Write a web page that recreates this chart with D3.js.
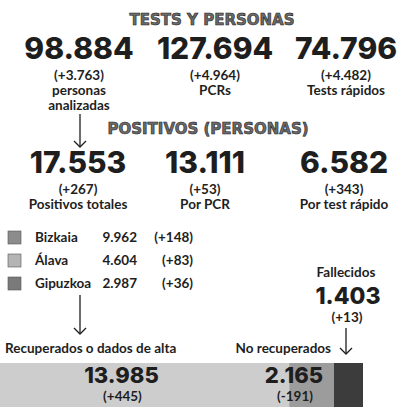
<!DOCTYPE html>
<html>
<head>
<meta charset="utf-8">
<script src="https://cdn.jsdelivr.net/npm/d3@7"></script>
<style>
  html, body { margin: 0; padding: 0; background: #fff; }
  svg { display: block; }
  .big { font-family: Inter, "DejaVu Sans", sans-serif; font-weight: 800; fill: #1e1e1e; font-variant-numeric: proportional-nums; }
  .lbl { font-family: Lato, "Open Sans", sans-serif; font-weight: 700; fill: #1e1e1e; }
  .head { font-family: "DejaVu Sans", sans-serif; font-weight: bold; fill: #6a6a6a; stroke: #1e1e1e; stroke-width: 0.6; }
</style>
</head>
<body>
<svg id="chart" width="400" height="412"></svg>
<script>
(function() {

    // datos
    var testValues = [98884, 127694, 74796];
    var testDeltas = [3763, 4964, 4482];
    var testLabels = [['personas', 'analizadas'], ['PCRs'], ['Tests rápidos']];

    var positiveValues = [17553, 13111, 6582];
    var positiveDeltas = [267, 53, 343];
    var positiveLabels = ['Positivos totales', 'Por PCR', 'Por test rápido'];

    var provinces = ['Bizkaia', 'Álava', 'Gipuzkoa'];
    var provinceValues = [9962, 4604, 2987];
    var provinceDeltas = [148, 83, 36];

    var outcomes = ['Recuperados o dados de alta', 'No recuperados', 'Fallecidos'];
    var outcomeValues = [13985, 2165, 1403];
    var outcomeDeltas = [445, -191, 13];

    var es = d3.formatLocale({decimal: ',', thousands: '.', grouping: [3], currency: ['', ' €'], minus: '-'});
    var num = es.format(',d');
    var delta = function(v) { return '(' + es.format('+,d')(v) + ')'; };

    var svg = d3.select('#chart');

    function arrow(x, y0, y1) {
        svg.append('line')
            .attr('x1', x).attr('x2', x)
            .attr('y1', y0).attr('y2', y1)
            .attr('stroke', '#1e1e1e')
            .attr('stroke-width', 1.3);
        svg.append('path')
            .attr('d', 'M' + (x - 6) + ',' + (y1 - 6) + ' L' + x + ',' + y1 + ' L' + (x + 6) + ',' + (y1 - 6))
            .attr('fill', 'none')
            .attr('stroke', '#1e1e1e')
            .attr('stroke-width', 1.3);
    }

    // bloque de tres cifras
    function block(values, deltas, labels, centers, top) {
        var g = svg.append('g').attr('transform', 'translate(0,' + top + ')');
        var cols = g.selectAll('g.col')
            .data(values.map(function(v, i) { return {v: v, d: deltas[i], l: labels[i], x: centers[i]}; }))
            .enter().append('g')
            .attr('class', 'col')
            .attr('transform', function(d) { return 'translate(' + d.x + ',0)'; });
        cols.append('text')
            .attr('class', 'big')
            .attr('text-anchor', 'middle')
            .attr('font-size', 30)
            .text(function(d) { return num(d.v); });
        cols.append('text')
            .attr('class', 'lbl')
            .attr('text-anchor', 'middle')
            .attr('font-size', 13.5)
            .attr('y', 21)
            .text(function(d) { return delta(d.d); });
        cols.each(function(d) {
            var lines = [].concat(d.l);
            d3.select(this).selectAll('text.sub')
                .data(lines)
                .enter().append('text')
                .attr('class', 'lbl sub')
                .attr('text-anchor', 'middle')
                .attr('font-size', 13.5)
                .attr('y', function(t, i) { return 36 + i * 15; })
                .text(function(t) { return t; });
        });
    }

    svg.append('text')
        .attr('class', 'head')
        .attr('x', 212).attr('y', 25)
        .attr('text-anchor', 'middle')
        .attr('font-size', 15)
        .text('TESTS Y PERSONAS');

    block(testValues, testDeltas, testLabels, [79, 215, 346], 59);

    arrow(80, 114, 147);

    svg.append('text')
        .attr('class', 'head')
        .attr('x', 208).attr('y', 134)
        .attr('text-anchor', 'middle')
        .attr('font-size', 15)
        .text('POSITIVOS (PERSONAS)');

    block(positiveValues, positiveDeltas, positiveLabels, [78, 205, 344], 173);

    // leyenda provincias
    var swatch = d3.scaleOrdinal().domain(provinces).range(['#8c8c8c', '#b4b4b4', '#7a7a7a']);
    var rows = svg.selectAll('g.prov')
        .data(provinces)
        .enter().append('g')
        .attr('class', 'prov')
        .attr('transform', function(d, i) { return 'translate(0,' + (242 + i * 23) + ')'; });
    rows.append('rect')
        .attr('x', 8).attr('y', -11)
        .attr('width', 13).attr('height', 13)
        .attr('fill', function(d) { return swatch(d); })
        .attr('stroke', '#555')
        .attr('stroke-width', 0.6);
    rows.append('text')
        .attr('class', 'lbl')
        .attr('x', 35)
        .attr('font-size', 13.5)
        .attr('font-weight', 400)
        .text(function(d) { return d; });
    rows.append('text')
        .attr('class', 'lbl')
        .attr('x', 137)
        .attr('text-anchor', 'end')
        .attr('font-size', 13.5)
        .text(function(d, i) { return num(provinceValues[i]); });
    rows.append('text')
        .attr('class', 'lbl')
        .attr('x', 193)
        .attr('text-anchor', 'end')
        .attr('font-size', 13.5)
        .text(function(d, i) { return delta(provinceDeltas[i]); });

    // fallecidos
    svg.append('text')
        .attr('class', 'lbl')
        .attr('x', 346).attr('y', 277)
        .attr('text-anchor', 'middle')
        .attr('font-size', 13.5)
        .text(outcomes[2]);
    svg.append('text')
        .attr('class', 'big')
        .attr('x', 348).attr('y', 304)
        .attr('text-anchor', 'middle')
        .attr('font-size', 23)
        .text(num(outcomeValues[2]));
    svg.append('text')
        .attr('class', 'lbl')
        .attr('x', 347).attr('y', 322)
        .attr('text-anchor', 'middle')
        .attr('font-size', 13.5)
        .text(delta(outcomeDeltas[2]));

    arrow(80, 295, 334);
    arrow(346, 328, 354);

    svg.append('text')
        .attr('class', 'lbl')
        .attr('x', 5).attr('y', 353)
        .attr('font-size', 13.5)
        .attr('font-weight', 400)
        .text(outcomes[0]);
    svg.append('text')
        .attr('class', 'lbl')
        .attr('x', 331).attr('y', 353)
        .attr('text-anchor', 'end')
        .attr('font-size', 13.5)
        .attr('font-weight', 400)
        .text(outcomes[1]);

    // barra apilada
    var stack = [];
    var acc = 0;
    outcomeValues.forEach(function(v, i) {
        stack.push({name: outcomes[i], v: v, d: outcomeDeltas[i], x0: acc, x1: acc + v});
        acc += v;
    });
    var x = d3.scaleLinear().domain([0, d3.sum(outcomeValues)]).range([0, 363]);
    var fill = d3.scaleOrdinal().domain(outcomes).range(['#cdcdcd', '#9c9c9c', '#3c3c3c']);

    svg.selectAll('rect.seg')
        .data(stack)
        .enter().append('rect')
        .attr('class', 'seg')
        .attr('x', function(d) { return x(d.x0); })
        .attr('width', function(d) { return x(d.x1) - x(d.x0); })
        .attr('y', 363)
        .attr('height', 44)
        .attr('fill', function(d) { return fill(d.name); });

    var labelled = stack.slice(0, 2);
    var lx = [x(stack[0].x1) * 0.42, x(stack[1].x1) - 40];
    svg.selectAll('text.segv')
        .data(labelled)
        .enter().append('text')
        .attr('class', 'big segv')
        .attr('x', function(d, i) { return lx[i]; })
        .attr('y', 383)
        .attr('text-anchor', 'middle')
        .attr('font-size', 22)
        .text(function(d) { return num(d.v); });
    svg.selectAll('text.segd')
        .data(labelled)
        .enter().append('text')
        .attr('class', 'lbl segd')
        .attr('x', function(d, i) { return lx[i] + 1; })
        .attr('y', 401)
        .attr('text-anchor', 'middle')
        .attr('font-size', 13.5)
        .text(function(d) { return delta(d.d); });
})();
</script>
</body>
</html>
